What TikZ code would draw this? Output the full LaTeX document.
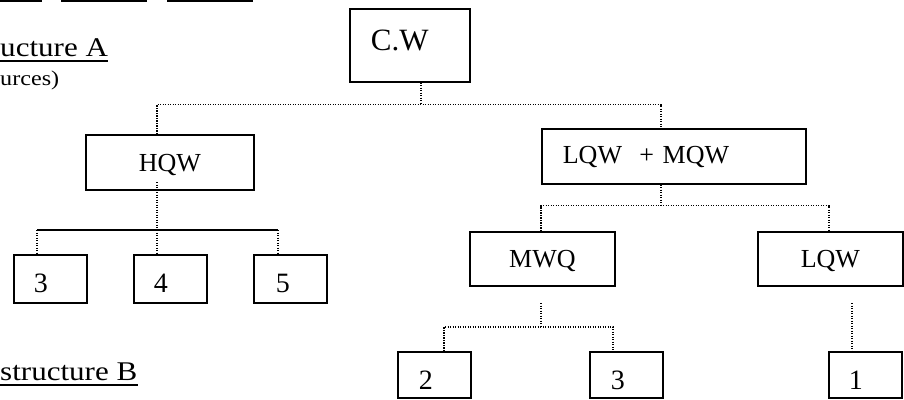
\documentclass[tikz,border=0pt]{standalone}
\usepackage{fontspec}
\setmainfont{Liberation Serif}
\usepackage{tikz}
\tikzstyle{wbox} = [draw, line width=1.7pt, rectangle, inner ysep=0pt, anchor=north west, font=\fontsize{26}{28}\selectfont]
\tikzstyle{wmid} = [wbox, minimum width=145pt, inner xsep=0pt, text height=36pt, text depth=18pt]
\tikzstyle{digitbox} = [wbox, font=\fontsize{28}{30}\selectfont, text width=33pt, inner xsep=20pt, align=left, text height=38pt, text depth=10pt]
\tikzstyle{dotline} = [line width=1.2pt, dash pattern=on 1.2pt off 1.3pt]
\tikzstyle{heading} = [anchor=base west, inner sep=0pt, xscale=1.15, transform shape]

\begin{document}
\begin{tikzpicture}[x=1pt, y=-1pt]
	\useasboundingbox (0,0) rectangle (904,399);
	\foreach \a/\b in {0/42, 61/147, 167/253}
		\draw[line width=1.9pt] (\a,0.9) -- (\b,0.9);
	\node[heading, font=\fontsize{27}{30}\selectfont] (headA) at (0,56) {ucture A};
	\node[heading, font=\fontsize{21}{24}\selectfont] (noteA) at (0,85) {urces)};
	\node[heading, font=\fontsize{27}{30}\selectfont] (headB) at (0,380) {structure B};
	\draw[line width=1.9pt] ([yshift=-5pt]headA.base west) -- ([yshift=-5pt]headA.base east);
	\draw[line width=1.9pt] ([yshift=-5pt]headB.base west) -- ([yshift=-5pt]headB.base east);

	\node[wbox, font=\fontsize{31}{34}\selectfont, text width=78pt, inner xsep=21pt, align=left, text height=42pt, text depth=31pt] (cw) at (349,8) {C.W};
	\node[wbox, minimum width=168pt, inner xsep=0pt, text height=37pt, text depth=18pt] (hqw) at (85,134) {HQW};
	\node[wbox, text width=222pt, inner xsep=21pt, align=left, text height=35pt, text depth=20pt] (lm) at (541,128) {LQW\ \ + MQW};
	\node[wmid] (mwq) at (469,231) {MWQ};
	\node[wmid] (lqw) at (757,231) {LQW};
	\node[digitbox] (h3) at (13,254) {3};
	\node[digitbox] (h4) at (133,254) {4};
	\node[digitbox, inner xsep=22pt, text width=29pt] (h5) at (253,254) {5};
	\node[digitbox, text depth=8pt, inner xsep=21pt, text width=31pt] (m2) at (397,351) {2};
	\node[digitbox, text depth=8pt, inner xsep=21pt, text width=31pt] (m3) at (589,351) {3};
	\node[digitbox, text depth=8pt] (l1) at (828,351) {1};

	\coordinate (jC) at (421,104.5);
	\coordinate (jL) at (157,104.5);
	\coordinate (jR) at (661,104.5);
	\draw[dotline] (cw.south -| jC) -- (jC);
	\draw[dotline] (hqw.north -| jL) -- (jL) -- (jR) -- (lm.north -| jR);

	\coordinate (hIn) at (157,182);
	\coordinate (hA) at (37,230);
	\coordinate (hB) at (157,230);
	\coordinate (hC) at (278,230);
	\draw[dotline] (hIn) -- (hB);
	\draw[line width=1.5pt] (hA) -- (hC);
	\foreach \j/\b in {hA/h3, hB/h4, hC/h5}
		\draw[dotline] (\j) -- (\b.north -| \j);

	\coordinate (lJ) at (661,205.5);
	\coordinate (lA) at (541,205.5);
	\coordinate (lB) at (829,205.5);
	\draw[dotline] (lm.south -| lJ) -- (lJ);
	\draw[dotline] (mwq.north -| lA) -- (lA) -- (lB) -- (lqw.north -| lB);

	\coordinate (mTop) at (541,303);
	\coordinate (mJ) at (541,327);
	\coordinate (mA) at (444,327);
	\coordinate (mB) at (613,327);
	\draw[dotline] (mTop) -- (mJ);
	\draw[dotline] (m2.north -| mA) -- (mA) -- (mB) -- (m3.north -| mB);
	\coordinate (qTop) at (852,303);
	\draw[dotline] (qTop) -- (l1.north -| qTop);
\end{tikzpicture}
\end{document}
